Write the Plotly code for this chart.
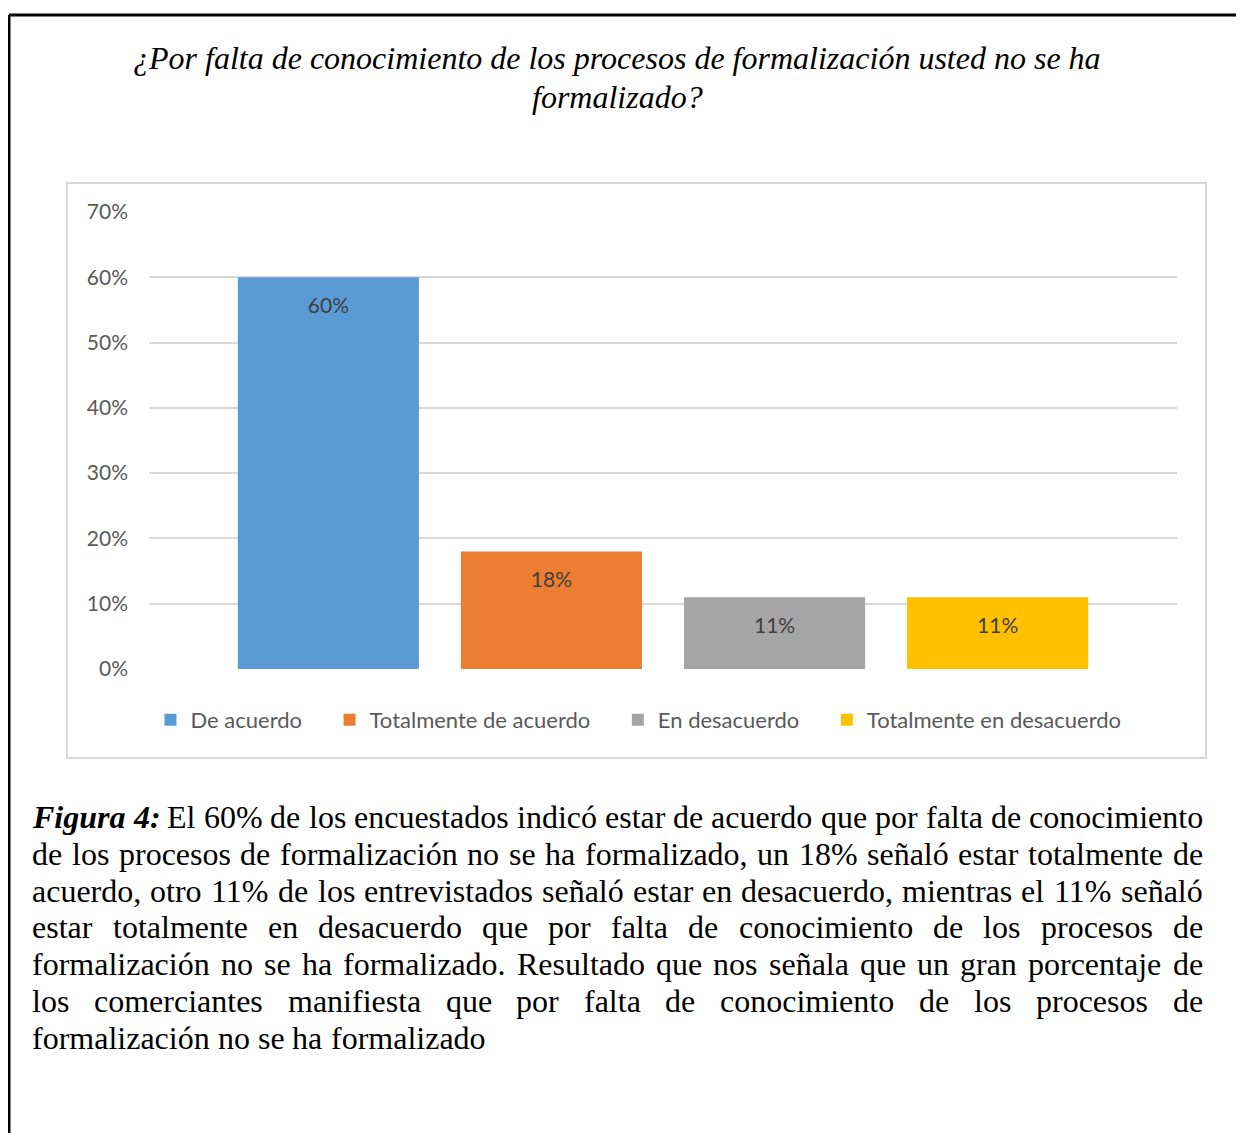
import plotly.graph_objects as go

W, H = 1244, 1133
OFFSET = 8  # page body margin of the browser

CATEGORY = ['']
SERIES = ['De acuerdo', 'Totalmente de acuerdo', 'En desacuerdo', 'Totalmente en desacuerdo']
VALUES = [0.60, 0.18, 0.11, 0.11]
BAR_COLORS = ['#5b9bd5', '#ed7d31', '#a5a5a5', '#ffc000']
Y_TICKS = [0, 0.1, 0.2, 0.3, 0.4, 0.5, 0.6, 0.7]

TITLE_LINES = [
    '¿Por falta de conocimiento de los procesos de formalización usted no se ha',
    'formalizado?',
]

CAPTION_LEAD = 'Figura 4:'
CAPTION_LINES = [
    'Figura 4: El 60% de los encuestados indicó estar de acuerdo que por falta de conocimiento',
    'de los procesos de formalización no se ha formalizado, un 18% señaló estar totalmente de',
    'acuerdo, otro 11% de los entrevistados señaló estar en desacuerdo, mientras el 11% señaló',
    'estar totalmente en desacuerdo que por falta de conocimiento de los procesos de',
    'formalización no se ha formalizado. Resultado que nos señala que un gran porcentaje de',
    'los comerciantes manifiesta que por falta de conocimiento de los procesos de',
    'formalización no se ha formalizado',
]

SANS = 'Lato, Calibri, sans-serif'
SERIF = 'Liberation Serif, Times New Roman, serif'

# Times New Roman advance widths (1/1000 em), used to justify the caption
TIMES = {' ': 250, '%': 833, ',': 250, '.': 250, ':': 278, '?': 444}
TIMES.update({d: 500 for d in '0123456789'})
TIMES.update(dict(zip('ABCDEFGHIJKLMNOPQRSTUVWXYZ',
                      [722, 667, 667, 722, 611, 556, 722, 722, 333, 389, 722, 611, 889,
                       722, 722, 556, 722, 667, 556, 611, 722, 722, 944, 722, 722, 611])))
TIMES.update(dict(zip('abcdefghijklmnopqrstuvwxyz',
                      [444, 500, 444, 500, 444, 333, 500, 500, 278, 278, 500, 278, 778,
                       500, 500, 500, 500, 333, 389, 278, 500, 500, 722, 500, 500, 444])))
TIMES.update({'á': 444, 'é': 444, 'í': 278, 'ó': 500, 'ú': 500, 'ñ': 500})
TIMES_BI = {'F': 667, 'i': 278, 'g': 500, 'u': 556, 'r': 389, 'a': 500, '4': 500, ':': 333}


def px(x):
    return (x - OFFSET) / W


def py(y):
    return 1 - (y - OFFSET) / H


def word_width(word, size, bold_italic=False):
    table = TIMES_BI if bold_italic else TIMES
    return sum(table.get(ch, 500) for ch in word) * size / 1000


fig = go.Figure()

# a blank first line pushes the label down from the bar top, as in Excel
LABEL = '\u00a0<br><span style="font-size:21px">%{y:.0%}</span>'
LEGEND_PAD = '\u00a0' * 4

for name, val, color in zip(SERIES, VALUES, BAR_COLORS):
    fig.add_trace(go.Bar(
        x=CATEGORY,
        y=[val],
        name=name + LEGEND_PAD,
        marker=dict(color=color, line=dict(width=0)),
        texttemplate=LABEL,
        textposition='inside',
        insidetextanchor='end',
        textangle=0,
        textfont=dict(family=SANS, size=14.5, color='#404040'),
        hoverinfo='skip',
    ))

annotations = []

title_y = [58, 97]
for line, y in zip(TITLE_LINES, title_y):
    annotations.append(dict(
        x=px(617), y=py(y), xref='paper', yref='paper',
        xanchor='center', yanchor='middle', showarrow=False,
        text=line,
        font=dict(family=SERIF, size=32, color='black', style='italic'),
    ))

# caption, justified word by word
CAP_SIZE = 32
LEFT, RIGHT = 31, 1202
lead_words = CAPTION_LEAD.split()
for i, line in enumerate(CAPTION_LINES):
    words = line.split()
    bold = [i == 0 and j < len(lead_words) for j in range(len(words))]
    widths = [word_width(w, CAP_SIZE, b) for w, b in zip(words, bold)]
    if i < len(CAPTION_LINES) - 1:
        gap = (RIGHT - LEFT - sum(widths)) / (len(words) - 1)
    else:
        gap = CAP_SIZE * 0.25
    y = 817 + 36.75 * i
    x = LEFT
    for w, wd, b in zip(words, widths, bold):
        font = dict(family=SERIF, size=CAP_SIZE, color='black')
        if b:
            font.update(style='italic', weight='bold')
        annotations.append(dict(
            x=px(x - 1), y=py(y), xref='paper', yref='paper',
            xanchor='left', yanchor='middle', showarrow=False,
            text=w, font=font,
        ))
        x += wd + gap

shapes = [
    # chart frame
    dict(type='rect', xref='paper', yref='paper',
         x0=px(67), x1=px(1206), y0=py(758), y1=py(183),
         line=dict(color='#d9d9d9', width=2), layer='below'),
    # page border
    dict(type='line', xref='paper', yref='paper',
         x0=px(9), x1=px(9), y0=py(15), y1=py(H + 20),
         line=dict(color='black', width=3)),
    dict(type='line', xref='paper', yref='paper',
         x0=px(9), x1=px(W + 20), y0=py(15), y1=py(15),
         line=dict(color='black', width=3)),
]

fig.update_layout(
    width=W, height=H,
    margin=dict(l=0, r=0, t=0, b=0, autoexpand=False),
    paper_bgcolor='white',
    plot_bgcolor='white',
    barmode='group',
    bargap=0.132,
    bargroupgap=0.188,
    showlegend=True,
    legend=dict(
        orientation='h',
        x=px(650), y=py(720), xanchor='center', yanchor='middle',
        font=dict(family=SANS, size=22, color='#595959'),
        bgcolor='rgba(0,0,0,0)',
    ),
    xaxis=dict(
        domain=[px(149), px(1177)],
        showticklabels=False, showgrid=False, zeroline=False, showline=False,
        fixedrange=True, automargin=False,
    ),
    yaxis=dict(
        domain=[py(669), py(212)],
        range=[0, 0.7],
        tickvals=Y_TICKS,
        tickformat='.0%',
        showgrid=True, gridcolor='#d9d9d9', gridwidth=2,
        zeroline=False, showline=False,
        ticks='', ticklabelstandoff=20,
        tickfont=dict(family=SANS, size=21, color='#595959'),
        fixedrange=True, automargin=False,
    ),
    annotations=annotations,
    shapes=shapes,
)

fig.write_html('out.html')
